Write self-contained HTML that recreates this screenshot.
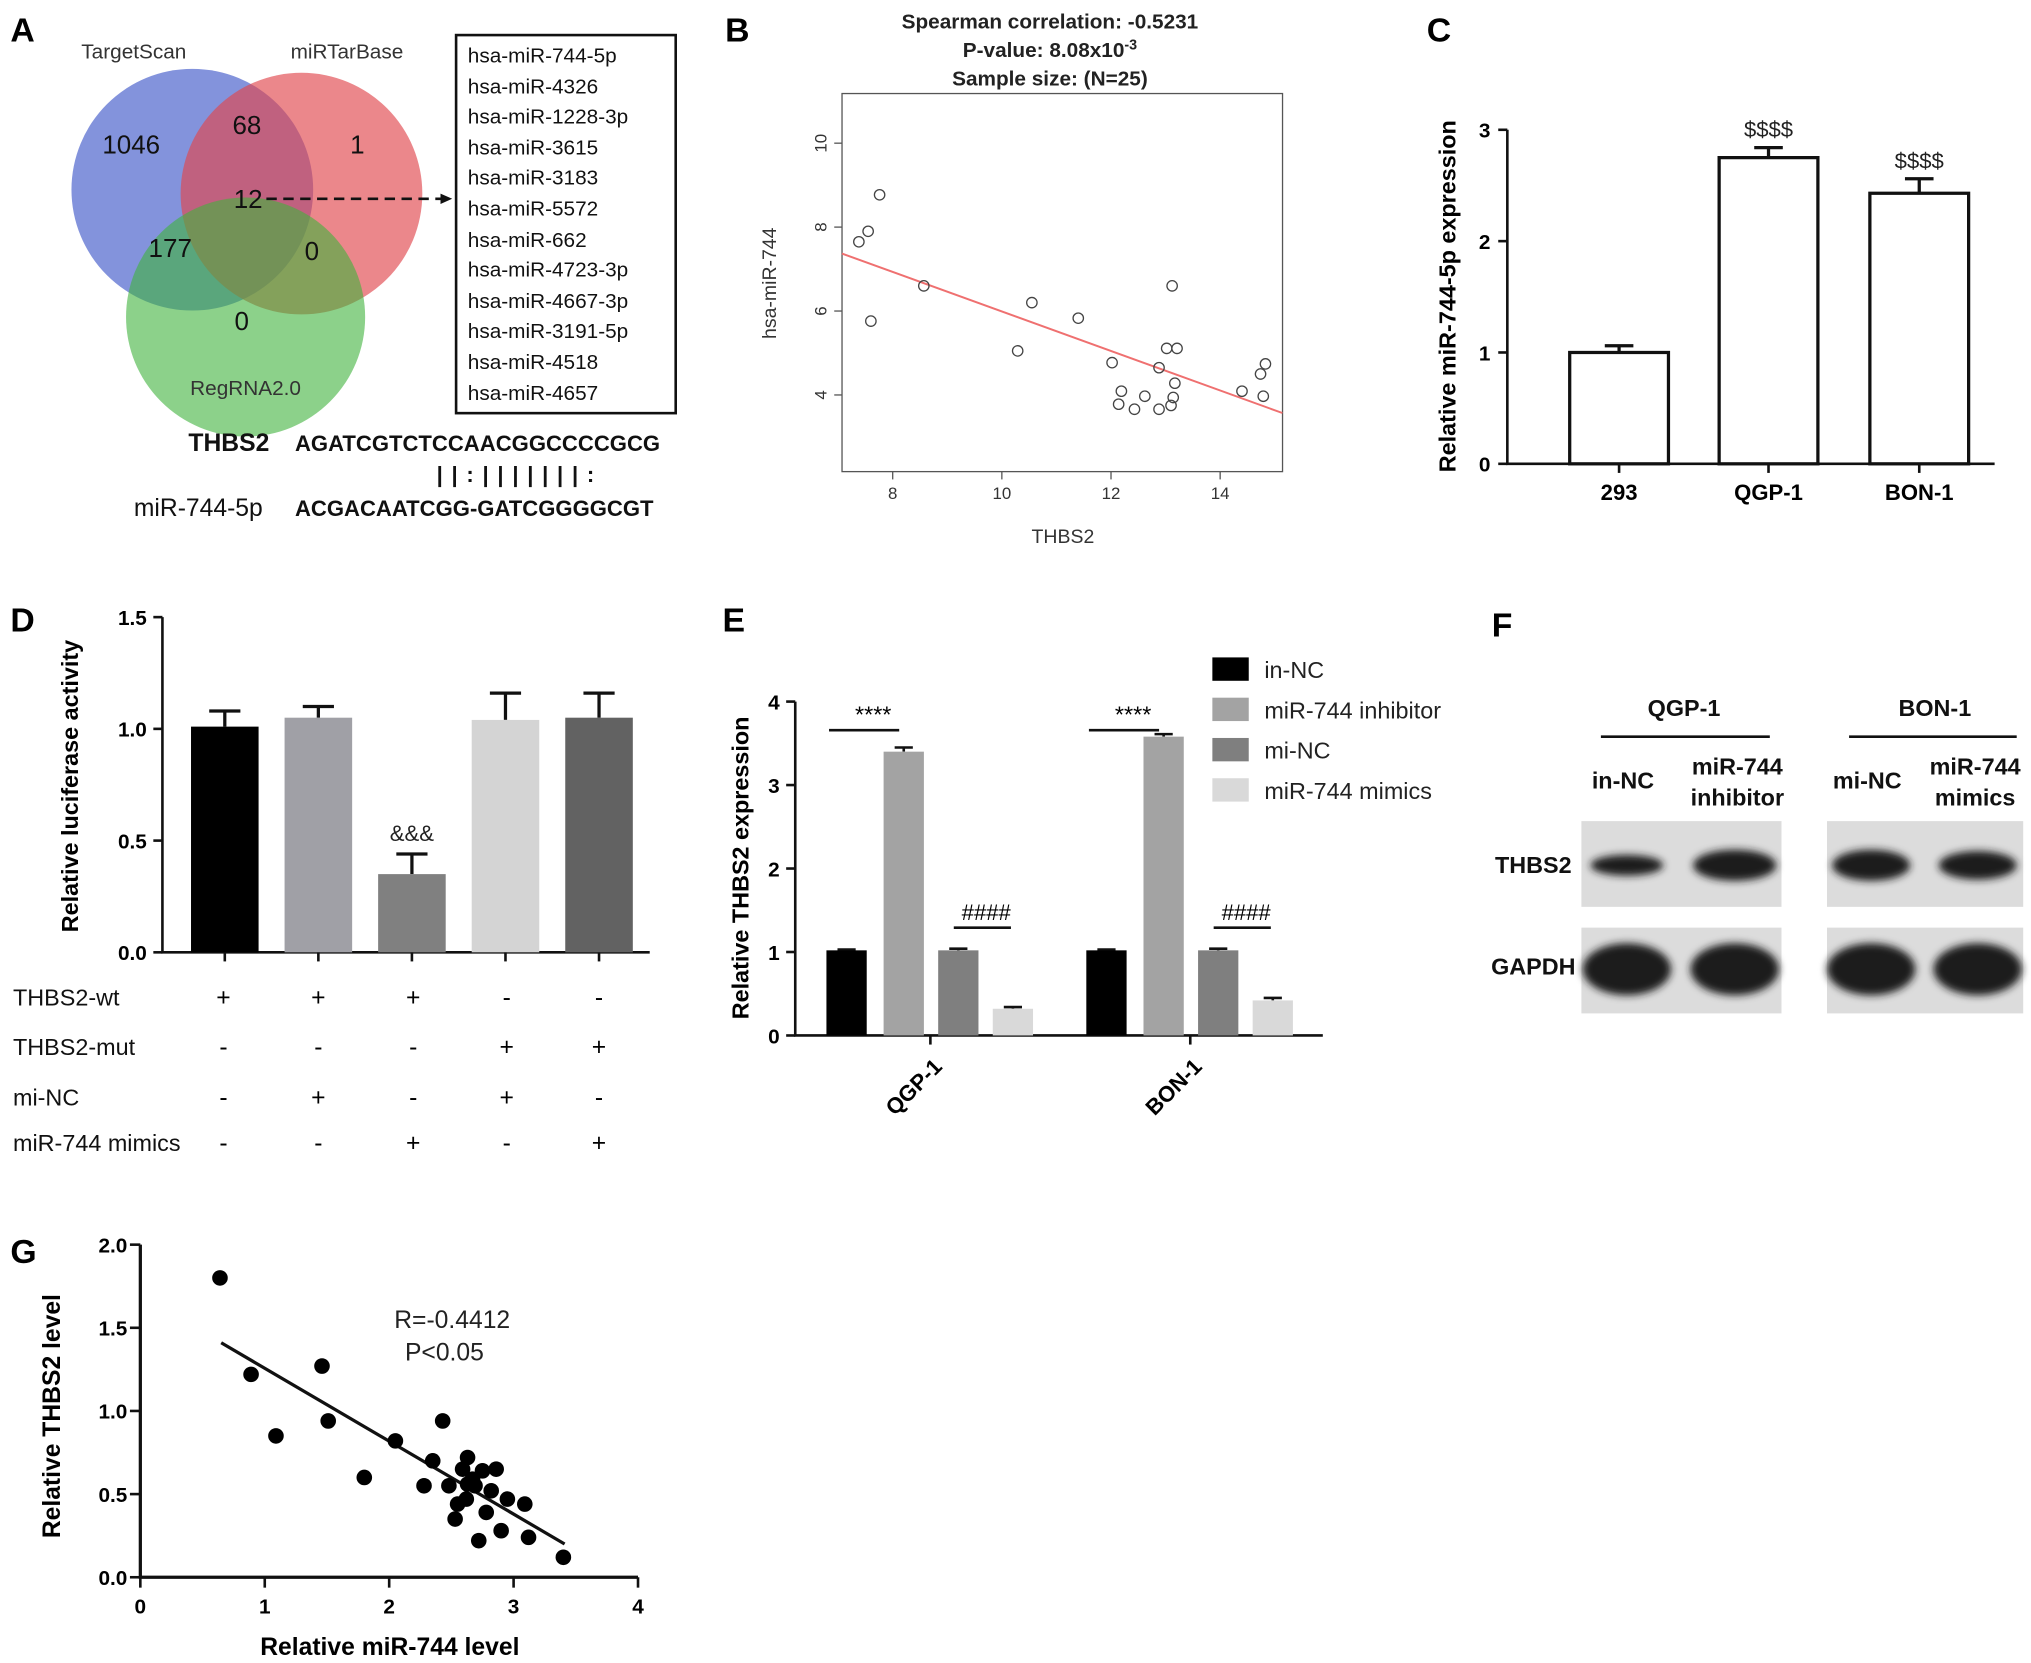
<!DOCTYPE html>
<html><head><meta charset="utf-8"><style>
html,body{margin:0;padding:0;background:#fff;}
svg{display:block;font-family:"Liberation Sans",Arial,sans-serif;}
</style></head><body>
<svg id="fig" width="2031" height="1663" viewBox="0 0 1563 1280" preserveAspectRatio="none" xmlns="http://www.w3.org/2000/svg">
<rect width="1563" height="1280" fill="#fff"/>
<!-- Panel A -->
<g>
<text x="8" y="32" font-size="26" font-weight="bold">A</text>
<circle cx="148" cy="146" r="93" fill="#5a6fd0" fill-opacity="0.75"/>
<circle cx="232" cy="149" r="93" fill="#e0474d" fill-opacity="0.65"/>
<circle cx="189" cy="244" r="92" fill="#3fb23c" fill-opacity="0.6"/>
<g font-size="16" fill="#333">
<text x="103" y="45" text-anchor="middle">TargetScan</text>
<text x="267" y="45" text-anchor="middle">miRTarBase</text>
<text x="189" y="304" text-anchor="middle">RegRNA2.0</text>
</g>
<g font-size="20" fill="#111" text-anchor="middle">
<text x="101" y="118">1046</text><text x="190" y="103">68</text><text x="275" y="118">1</text>
<text x="191" y="160">12</text><text x="131" y="198">177</text><text x="240" y="200">0</text><text x="186" y="254">0</text>
</g>
<line x1="205" y1="153" x2="340" y2="153" stroke="#111" stroke-width="2" stroke-dasharray="8,5"/>
<polygon points="348,153 339,149 339,157" fill="#111"/>
<rect x="351" y="27" width="169" height="291" fill="none" stroke="#111" stroke-width="2"/>
<g font-size="16" fill="#111">
<text x="360" y="48">hsa-miR-744-5p</text><text x="360" y="72">hsa-miR-4326</text><text x="360" y="95">hsa-miR-1228-3p</text>
<text x="360" y="119">hsa-miR-3615</text><text x="360" y="142">hsa-miR-3183</text><text x="360" y="166">hsa-miR-5572</text>
<text x="360" y="190">hsa-miR-662</text><text x="360" y="213">hsa-miR-4723-3p</text><text x="360" y="237">hsa-miR-4667-3p</text>
<text x="360" y="260">hsa-miR-3191-5p</text><text x="360" y="284">hsa-miR-4518</text><text x="360" y="308">hsa-miR-4657</text>
</g>
<g font-size="17" fill="#111">
<text x="145" y="347" font-weight="bold" font-size="19">THBS2</text>
<text x="227" y="347" font-weight="bold">AGATCGTCTCCAACGGCCCCGCG</text>
<text x="336" y="371" font-weight="bold" letter-spacing="1">| |        : | | | | | | |  :</text>
<text x="103" y="397" font-size="19">miR-744-5p</text>
<text x="227" y="397" font-weight="bold">ACGACAATCGG-GATCGGGGCGT</text>
</g>
</g>

<!-- Panel B -->
<g id="pb">
<text x="558" y="32" font-size="26" font-weight="bold">B</text>
<g font-size="16" font-weight="bold" text-anchor="middle" fill="#222">
<text x="808" y="22">Spearman correlation:  -0.5231</text>
<text x="808" y="44">P-value: 8.08x10<tspan font-size="11" dy="-6">-3</tspan></text>
<text x="808" y="66">Sample size:  (N=25)</text>
</g>
<rect x="648" y="72" width="339" height="291" fill="none" stroke="#555" stroke-width="1"/>
<text x="597" y="218" font-size="15" fill="#333" text-anchor="middle" transform="rotate(-90 597 218)">hsa-miR-744</text>
<text x="818" y="418" font-size="15" fill="#333" text-anchor="middle">THBS2</text>
</g>

<!-- Panel C -->
<g id="pc">
<text x="1098" y="32" font-size="26" font-weight="bold">C</text>
<text x="1120" y="228" font-size="18" font-weight="bold" text-anchor="middle" transform="rotate(-90 1120 228)">Relative miR-744-5p expression</text>
</g>

<!-- Panel D -->
<g id="pd">
<text x="8" y="486" font-size="26" font-weight="bold">D</text>
<text x="60" y="605" font-size="18" font-weight="bold" text-anchor="middle" transform="rotate(-90 60 605)">Relative luciferase activity</text>
<g font-size="18" fill="#111">
<text x="10" y="774">THBS2-wt</text><text x="10" y="812">THBS2-mut</text><text x="10" y="851">mi-NC</text><text x="10" y="886">miR-744 mimics</text>
</g>
</g>

<!-- Panel E -->
<g id="pe">
<text x="556" y="486" font-size="26" font-weight="bold">E</text>
<text x="576" y="668" font-size="18" font-weight="bold" text-anchor="middle" transform="rotate(-90 576 668)">Relative THBS2 expression</text>
</g>

<!-- Panel F -->
<g>
<text x="1148" y="490" font-size="26" font-weight="bold">F</text>
<g font-size="18" font-weight="bold" fill="#111" text-anchor="middle">
<text x="1296" y="551">QGP-1</text><text x="1489" y="551">BON-1</text>
<text x="1249" y="607">in-NC</text><text x="1337" y="596">miR-744</text><text x="1337" y="620">inhibitor</text>
<text x="1437" y="607">mi-NC</text><text x="1520" y="596">miR-744</text><text x="1520" y="620">mimics</text>
<text x="1180" y="672">THBS2</text><text x="1180" y="750">GAPDH</text>
</g>
<line x1="1232" y1="567" x2="1362" y2="567" stroke="#111" stroke-width="2"/>
<line x1="1423" y1="567" x2="1552" y2="567" stroke="#111" stroke-width="2"/>
<defs><filter id="blur"><feGaussianBlur stdDeviation="3"/></filter></defs>
<g>
<rect x="1217" y="632" width="154" height="66" fill="#dcdcdc"/>
<rect x="1217" y="714" width="154" height="66" fill="#dcdcdc"/>
<rect x="1406" y="632" width="151" height="66" fill="#dcdcdc"/>
<rect x="1406" y="714" width="151" height="66" fill="#dcdcdc"/>
<g filter="url(#blur)" fill="#1a1a1a">
<ellipse cx="1252" cy="666" rx="28" ry="8"/><ellipse cx="1335" cy="666" rx="32" ry="12"/>
<ellipse cx="1440" cy="666" rx="30" ry="12"/><ellipse cx="1522" cy="666" rx="30" ry="11"/>
<ellipse cx="1252" cy="746" rx="34" ry="20"/><ellipse cx="1335" cy="746" rx="34" ry="20"/>
<ellipse cx="1440" cy="746" rx="34" ry="20"/><ellipse cx="1522" cy="746" rx="34" ry="20"/>
</g>
</g>
</g>

<!-- Panel G -->
<g id="pg">
<text x="8" y="972" font-size="26" font-weight="bold">G</text>
<text x="46" y="1090" font-size="19" font-weight="bold" text-anchor="middle" transform="rotate(-90 46 1090)">Relative THBS2 level</text>
<text x="300" y="1274" font-size="19" font-weight="bold" text-anchor="middle">Relative miR-744 level</text>
<text x="348" y="1022" font-size="19" text-anchor="middle" fill="#222">R=-0.4412</text>
<text x="342" y="1047" font-size="19" text-anchor="middle" fill="#222">P&lt;0.05</text>
</g>
</svg>
<script>
const NS="http://www.w3.org/2000/svg";
function mk(parent,tag,attrs){const e=document.createElementNS(NS,tag);for(const k in attrs)e.setAttribute(k,attrs[k]);parent.appendChild(e);return e;}

// ---- Panel B data ----
const bX=[7.38,7.55,7.76,7.6,8.57,10.29,10.55,11.4,12.02,12.19,12.14,12.43,12.62,12.88,12.88,13.02,13.21,13.12,13.17,13.14,13.1,14.4,14.74,14.83,14.79];
const bY=[7.65,7.9,8.77,5.76,6.6,5.05,6.2,5.83,4.77,4.09,3.78,3.66,3.97,4.65,3.66,5.11,5.11,6.6,4.28,3.94,3.75,4.09,4.5,4.74,3.97];
const bXTicks=[8,10,12,14];
const bYTicks=[4,6,8,10];
const bFitX=[7.07,15.14];
const bFitY=[7.37,3.57];

// ---- Panel C data ----
const cCats=["293","QGP-1","BON-1"];
const cVals=[1.0,2.75,2.43];
const cErr=[0.06,0.09,0.13];
const cMarks=["","$$$$","$$$$"];
const cTicks=[0,1,2,3];

// ---- Panel D data ----
const dVals=[1.01,1.05,0.35,1.04,1.05];
const dErr=[0.07,0.05,0.09,0.12,0.11];
const dMarks=["","","&&&","",""];
const dTicks=[0.0,0.5,1.0,1.5];
const dRowWt=["+","+","+","-","-"];
const dRowMut=["-","-","-","+","+"];
const dRowNC=["-","+","-","+","-"];
const dRowMim=["-","-","+","-","+"];

// ---- Panel E data ----
const eGroups=["QGP-1","BON-1"];
const eSeries=["in-NC","miR-744 inhibitor","mi-NC","miR-744 mimics"];
const eQGP=[1.02,3.4,1.02,0.32];
const eBON=[1.02,3.58,1.02,0.42];
const eErrQGP=[0.01,0.05,0.02,0.02];
const eErrBON=[0.01,0.03,0.02,0.03];
const eTicks=[0,1,2,3,4];

// ---- Panel G data ----
const gX=[0.64,0.89,1.09,1.46,1.51,1.80,2.05,2.28,2.35,2.43,2.48,2.53,2.55,2.59,2.62,2.63,2.67,2.69,2.72,2.75,2.78,2.82,2.86,2.90,2.95,3.09,3.12,3.40,2.63];
const gY=[1.80,1.22,0.85,1.27,0.94,0.60,0.82,0.55,0.70,0.94,0.55,0.35,0.44,0.65,0.47,0.72,0.59,0.55,0.22,0.64,0.39,0.52,0.65,0.28,0.47,0.44,0.24,0.12,0.56];
const gXTicks=[0,1,2,3,4];
const gYTicks=[0.0,0.5,1.0,1.5,2.0];
const gFitX=[0.65,3.41];
const gFitY=[1.41,0.20];

// ===== Panel B =====
(function(){
const g=document.getElementById('pb');
const sx=v=>687+(v-8)*42, sy=v=>304-(v-4)*32.3;
bXTicks.forEach(t=>{
 const l=mk(g,'line',{x1:sx(t),x2:sx(t),y1:363,y2:369,stroke:'#555'});
 
 
 const tx=mk(g,'text',{x:sx(t),y:384,'font-size':13,'text-anchor':'middle',fill:'#333'});tx.textContent=t;
 
 
});
bYTicks.forEach(t=>{
 const l=mk(g,'line',{x1:642,x2:648,y1:sy(t),y2:sy(t),stroke:'#555'});
 
 
 const tx=mk(g,'text',{x:636,y:sy(t),'font-size':13,'text-anchor':'middle',fill:'#333',transform:`rotate(-90 636 ${sy(t)})`});tx.textContent=t;
 
 
});
const fl=mk(g,'line',{x1:sx(bFitX[0]),y1:sy(bFitY[0]),x2:sx(bFitX[1]),y2:sy(bFitY[1]),stroke:'#ef7070','stroke-width':1.5});


bX.forEach((x,i)=>{
 const c=mk(g,'circle',{cx:sx(x),cy:sy(bY[i]),r:4,fill:'none',stroke:'#444','stroke-width':1});
 
 
});
})();

// ===== Panel C =====
(function(){
const g=document.getElementById('pc');
const sy=v=>357-v*85.7;
const cx=[1246,1361,1477];
const ax=mk(g,'path',{d:`M1160 ${sy(3)} V357 H1535`,stroke:'#111','stroke-width':2,fill:'none'});


cTicks.forEach(t=>{
 const l=mk(g,'line',{x1:1153,x2:1160,y1:sy(t),y2:sy(t),stroke:'#111','stroke-width':2});
 
 
 const tx=mk(g,'text',{x:1147,y:sy(t)+6,'font-size':16,'font-weight':'bold','text-anchor':'end'});tx.textContent=t;
 
 
});
cCats.forEach((c,i)=>{
 const top=sy(cVals[i]), et=sy(cVals[i]+cErr[i]);
 const e=mk(g,'path',{d:`M${cx[i]} ${top} V${et} M${cx[i]-11} ${et} H${cx[i]+11}`,stroke:'#111','stroke-width':2.5,fill:'none'});
 
 
 const r=mk(g,'rect',{x:cx[i]-38,y:top,width:76,height:357-top,fill:'#fff',stroke:'#111','stroke-width':2.5});
 
 
 const tk=mk(g,'line',{x1:cx[i],x2:cx[i],y1:357,y2:364,stroke:'#111','stroke-width':2});
 
 
 const tx=mk(g,'text',{x:cx[i],y:385,'font-size':17,'font-weight':'bold','text-anchor':'middle'});tx.textContent=c;
 
 
 if(cMarks[i]){const m=mk(g,'text',{x:cx[i],y:et-8,'font-size':17,'text-anchor':'middle',fill:'#222'});m.textContent=cMarks[i];
 
 }
});
})();

// ===== Panel D =====
(function(){
const g=document.getElementById('pd');
const sy=v=>733-v*172;
const cx=[173,245,317,389,461];
const bw=52;
const cols=['#000','#a0a0a6','#808080','#d4d4d4','#626262'];
const ax=mk(g,'path',{d:`M125 ${sy(1.5)} V733 H500`,stroke:'#111','stroke-width':2,fill:'none'});


dTicks.forEach(t=>{
 const l=mk(g,'line',{x1:118,x2:125,y1:sy(t),y2:sy(t),stroke:'#111','stroke-width':2});
 
 
 const tx=mk(g,'text',{x:113,y:sy(t)+6,'font-size':16,'font-weight':'bold','text-anchor':'end'});tx.textContent=t.toFixed(1);
 
 
});
dVals.forEach((v,i)=>{
 const top=sy(v), et=sy(v+dErr[i]);
 const e=mk(g,'path',{d:`M${cx[i]} ${top} V${et} M${cx[i]-12} ${et} H${cx[i]+12}`,stroke:'#111','stroke-width':2.5,fill:'none'});
 
 
 const r=mk(g,'rect',{x:cx[i]-bw/2,y:top,width:bw,height:733-top,fill:cols[i]});
 
 
 const tk=mk(g,'line',{x1:cx[i],x2:cx[i],y1:733,y2:740,stroke:'#111','stroke-width':2});
 
 
 if(dMarks[i]){const m=mk(g,'text',{x:cx[i],y:et-10,'font-size':17,'text-anchor':'middle',fill:'#222'});m.textContent=dMarks[i];
 
 }
});
const xs=[172,245,318,390,461];
[[dRowWt,774],[dRowMut,812],[dRowNC,851],[dRowMim,886]].forEach(([row,y])=>{
 row.forEach((s,i)=>{const t=mk(g,'text',{x:xs[i],y:y,'font-size':19,'text-anchor':'middle'});t.textContent=s;
 
 });
});
})();

// ===== Panel E =====
(function(){
const g=document.getElementById('pe');
const sy=v=>797-v*64.25;
const cols=['#000','#a3a3a3','#7f7f7f','#d9d9d9'];
const gx=[636,836], off=[0,44,86,128], bw=31;
const ax=mk(g,'path',{d:`M612 ${sy(4)} V797 H1018`,stroke:'#111','stroke-width':2,fill:'none'});


eTicks.forEach(t=>{
 const l=mk(g,'line',{x1:605,x2:612,y1:sy(t),y2:sy(t),stroke:'#111','stroke-width':2});
 
 
 const tx=mk(g,'text',{x:600,y:sy(t)+6,'font-size':16,'font-weight':'bold','text-anchor':'end'});tx.textContent=t;
 
 
});
[eQGP,eBON].forEach((vals,gi)=>{
 const errs=gi?eErrBON:eErrQGP;
 vals.forEach((v,i)=>{
  const x=gx[gi]+off[i], top=sy(v), et=sy(v+errs[i]);
  const e=mk(g,'path',{d:`M${x+bw/2} ${top} V${et} M${x+bw/2-7} ${et} H${x+bw/2+7}`,stroke:'#111','stroke-width':2,fill:'none'});
  
  
  const r=mk(g,'rect',{x:x,y:top,width:bw,height:797-top,fill:cols[i]});
  
  
 });
 const x0=gx[gi];
 const s1=mk(g,'path',{d:`M${x0+2} 562 H${x0+56}`,stroke:'#111','stroke-width':2});
 
 
 const t1=mk(g,'text',{x:x0+36,y:556,'font-size':18,'text-anchor':'middle'});t1.textContent='****';
 
 
 const s2=mk(g,'path',{d:`M${x0+98} 714 H${x0+142}`,stroke:'#111','stroke-width':2});
 
 
 const t2=mk(g,'text',{x:x0+123,y:708,'font-size':17,'text-anchor':'middle'});t2.textContent='####';
 
 
 const cx=x0+80;
 const tk=mk(g,'line',{x1:cx,x2:cx,y1:797,y2:804,stroke:'#111','stroke-width':2});
 
 
 const tx=mk(g,'text',{x:cx+10,y:822,'font-size':17,'font-weight':'bold','text-anchor':'end',transform:`rotate(-45 ${cx+10} 822)`});tx.textContent=eGroups[gi];
 
 
});
eSeries.forEach((s,i)=>{
 const y=515+i*31;
 const r=mk(g,'rect',{x:933,y:y-9,width:28,height:18,fill:cols[i]});
 
 
 const t=mk(g,'text',{x:973,y:y+7,'font-size':18,fill:'#222'});t.textContent=s;
 
 
});
})();

// ===== Panel G =====
(function(){
const g=document.getElementById('pg');
const sx=v=>108+v*95.75, sy=v=>1214-v*128;
const ax=mk(g,'path',{d:`M108 ${sy(2)} V1214 H${sx(4)}`,stroke:'#111','stroke-width':2.5,fill:'none'});


gXTicks.forEach(t=>{
 const l=mk(g,'line',{x1:sx(t),x2:sx(t),y1:1214,y2:1222,stroke:'#111','stroke-width':2});
 
 
 const tx=mk(g,'text',{x:sx(t),y:1242,'font-size':16,'font-weight':'bold','text-anchor':'middle'});tx.textContent=t;
 
 
});
gYTicks.forEach(t=>{
 const l=mk(g,'line',{x1:100,x2:108,y1:sy(t),y2:sy(t),stroke:'#111','stroke-width':2});
 
 
 const tx=mk(g,'text',{x:98,y:sy(t)+6,'font-size':16,'font-weight':'bold','text-anchor':'end'});tx.textContent=t.toFixed(1);
 
 
});
const fl=mk(g,'line',{x1:sx(gFitX[0]),y1:sy(gFitY[0]),x2:sx(gFitX[1]),y2:sy(gFitY[1]),stroke:'#111','stroke-width':2.5});


gX.forEach((x,i)=>{
 const c=mk(g,'circle',{cx:sx(x),cy:sy(gY[i]),r:6,fill:'#000'});
 
 
});
})();
</script>
</body></html>
